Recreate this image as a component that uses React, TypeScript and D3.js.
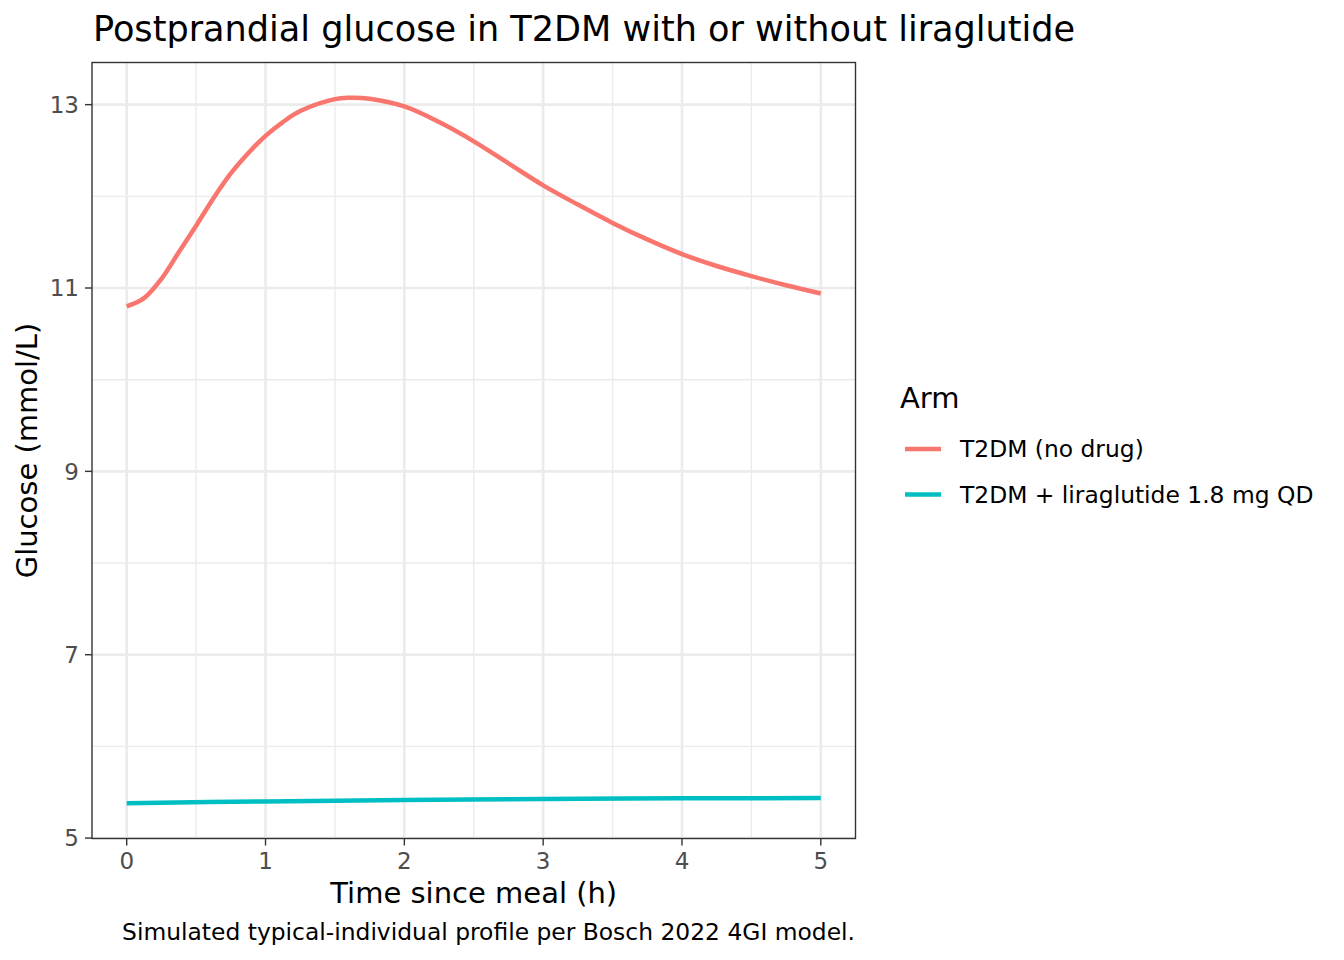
import React from 'react'
import * as d3 from 'd3'

interface Pt {
  t: number
  v: number
}

const times = [0, 0.125, 0.25, 0.375, 0.5, 0.625, 0.75, 0.875, 1, 1.125, 1.25, 1.5, 1.6, 1.75, 2, 2.25, 2.5, 2.75, 3, 3.25, 3.5, 3.75, 4, 4.25, 4.5, 4.75, 5]
const noDrug = [10.8, 10.89, 11.1, 11.39, 11.68, 11.98, 12.25, 12.47, 12.66, 12.81, 12.93, 13.06, 13.075, 13.065, 12.98, 12.81, 12.6, 12.36, 12.12, 11.91, 11.71, 11.53, 11.37, 11.24, 11.13, 11.03, 10.94]
const liraTimes = [0, 1, 2, 3, 4, 5]
const lira = [5.38, 5.4, 5.415, 5.427, 5.433, 5.437]

const xTicks = [0, 1, 2, 3, 4, 5]
const xMinor = [0.5, 1.5, 2.5, 3.5, 4.5]
const yTicks = [5, 7, 9, 11, 13]
const yMinor = [6, 8, 10, 12]

const seriesNames = ['T2DM (no drug)', 'T2DM + liraglutide 1.8 mg QD']
const colors = ['#F8766D', '#00BFC4']

const W = 1344
const H = 960
const panel = { left: 92, right: 855.5, top: 62.5, bottom: 838.5 }
const font = '"DejaVu Sans", sans-serif'

function expand(lo: number, hi: number): [number, number] {
  const d = (hi - lo) * 0.05
  return [lo - d, hi + d]
}

export default function App() {
  const s1: Pt[] = times.map((t, i) => ({ t, v: noDrug[i] }))
  const s2: Pt[] = liraTimes.map((t, i) => ({ t, v: lira[i] }))
  const all = [...noDrug, ...lira]

  const x = d3.scaleLinear().domain(expand(0, 5)).range([panel.left, panel.right])
  const y = d3.scaleLinear()
    .domain(expand(d3.min(all) as number, d3.max(all) as number))
    .range([panel.bottom, panel.top])

  const line = d3.line<Pt>()
    .x(d => x(d.t))
    .y(d => y(d.v))
    .curve(d3.curveCatmullRom.alpha(0.5))

  const pw = panel.right - panel.left
  const ph = panel.bottom - panel.top
  const cx = panel.left + pw / 2
  const cy = panel.top + ph / 2

  return (
    <div style={{ position: 'fixed', left: 0, top: 0 }}>
      <svg width={W} height={H} style={{ display: 'block', background: '#fff' }} fontFamily={font}>
        <text x={93} y={41} fontSize={35.1} fill="#000">
          Postprandial glucose in T2DM with or without liraglutide
        </text>

        <defs>
          <clipPath id="panel-clip">
            <rect x={panel.left} y={panel.top} width={pw} height={ph} />
          </clipPath>
        </defs>

        {/* grid */}
        <g stroke="#EBEBEB" fill="none">
          {yMinor.map(v => (
            <line key={'ym' + v} x1={panel.left} x2={panel.right} y1={y(v)} y2={y(v)} strokeWidth={1.4} />
          ))}
          {xMinor.map(v => (
            <line key={'xm' + v} x1={x(v)} x2={x(v)} y1={panel.top} y2={panel.bottom} strokeWidth={1.4} />
          ))}
          {yTicks.map(v => (
            <line key={'y' + v} x1={panel.left} x2={panel.right} y1={y(v)} y2={y(v)} strokeWidth={2.6} />
          ))}
          {xTicks.map(v => (
            <line key={'x' + v} x1={x(v)} x2={x(v)} y1={panel.top} y2={panel.bottom} strokeWidth={2.6} />
          ))}
        </g>

        <g clipPath="url(#panel-clip)" fill="none" strokeWidth={4.5}>
          <path d={line(s1) ?? ''} stroke={colors[0]} />
          <path d={line(s2) ?? ''} stroke={colors[1]} />
        </g>

        <rect x={panel.left} y={panel.top} width={pw} height={ph} fill="none" stroke="#333333" strokeWidth={1.4} />

        {/* y axis */}
        <g>
          {yTicks.map(v => (
            <g key={'yt' + v}>
              <line x1={panel.left - 7} x2={panel.left} y1={y(v)} y2={y(v)} stroke="#333333" strokeWidth={1.4} />
              <text x={panel.left - 13} y={y(v)} dy="0.36em" textAnchor="end" fontSize={23} fill="#4D4D4D">
                {v}
              </text>
            </g>
          ))}
        </g>

        {/* x axis */}
        <g>
          {xTicks.map(v => (
            <g key={'xt' + v}>
              <line x1={x(v)} x2={x(v)} y1={panel.bottom} y2={panel.bottom + 7} stroke="#333333" strokeWidth={1.4} />
              <text x={x(v)} y={869} textAnchor="middle" fontSize={23} fill="#4D4D4D">
                {v}
              </text>
            </g>
          ))}
        </g>

        <text x={cx} y={903} textAnchor="middle" fontSize={29} fill="#000">
          Time since meal (h)
        </text>
        <text transform={`translate(37,${cy}) rotate(-90)`} textAnchor="middle" fontSize={29} fill="#000">
          Glucose (mmol/L)
        </text>

        <text x={855} y={940} textAnchor="end" fontSize={23.4} fill="#000">
          Simulated typical-individual profile per Bosch 2022 4GI model.
        </text>

        {/* legend */}
        <g>
          <text x={900} y={408} fontSize={29} fill="#000">Arm</text>
          {seriesNames.map((name, i) => (
            <g key={name} transform={`translate(0,${449 + i * 45.5})`}>
              <line x1={905} x2={941} y1={0} y2={0} stroke={colors[i]} strokeWidth={4.5} />
              <text x={960} y={0} dy="0.36em" fontSize={23.4} fill="#000">{name}</text>
            </g>
          ))}
        </g>
      </svg>
    </div>
  )
}
